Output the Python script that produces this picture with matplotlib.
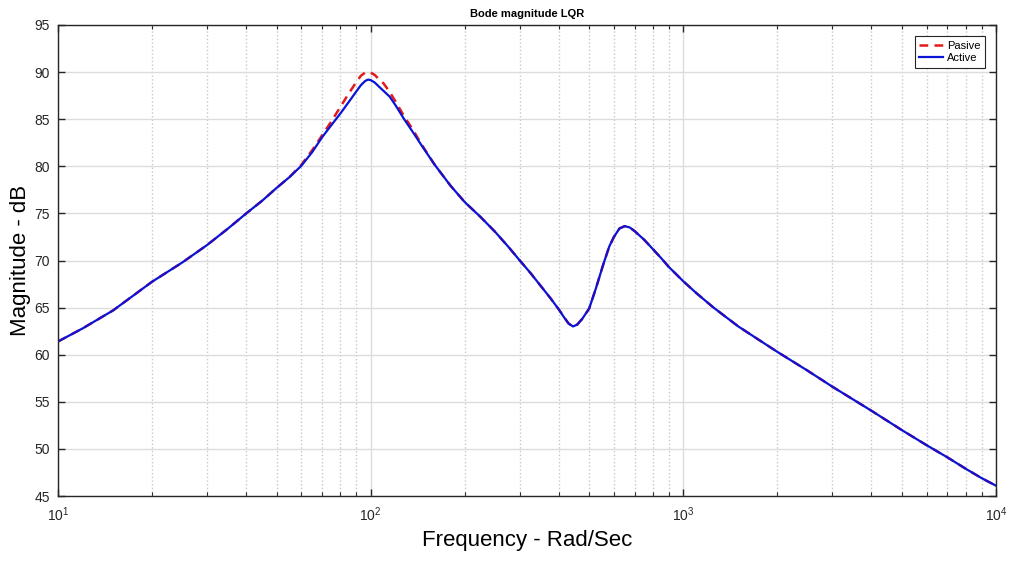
import numpy as np
import matplotlib
matplotlib.use("Agg")
import matplotlib.pyplot as plt
from matplotlib.ticker import LogLocator, NullFormatter

plt.rcParams['font.family'] = ['Liberation Sans', 'DejaVu Sans']

# valeurs
freq = [10, 12, 15, 20, 25, 30, 35, 40, 45, 50, 55, 60, 65, 70, 75, 80, 85, 90,
        93, 96, 98, 100, 103, 106, 110, 115, 120, 128, 137, 145, 160, 180, 200,
        225, 250, 275, 300, 325, 350, 375, 400, 415, 430, 444, 458, 475, 500,
        525, 555, 580, 600, 625, 650, 675, 700, 750, 800, 850, 900, 1000, 1100,
        1250, 1500, 1750, 2000, 2500, 3000, 4000, 5000, 6000, 7000, 8000, 9000,
        10000]

active_db = [61.4, 62.8, 64.7, 67.75, 69.8, 71.65, 73.4, 75.0, 76.35, 77.7, 78.85,
             80.05, 81.5, 83.1, 84.4, 85.6, 86.8, 87.95, 88.6, 89.05, 89.2, 89.15,
             88.9, 88.5, 88.0, 87.4, 86.5, 85.0, 83.55, 82.3, 80.2, 77.95, 76.2,
             74.6, 73.05, 71.5, 70.0, 68.65, 67.3, 66.05, 64.8, 64.0, 63.3, 63.0,
             63.2, 63.8, 64.9, 67.0, 69.6, 71.5, 72.5, 73.4, 73.65, 73.5, 73.1,
             72.2, 71.2, 70.25, 69.3, 67.8, 66.55, 65.0, 63.0, 61.55, 60.3, 58.3,
             56.6, 54.05, 52.0, 50.4, 49.1, 47.9, 46.9, 46.1]

pasive_db = [61.4, 62.8, 64.7, 67.75, 69.8, 71.65, 73.4, 75.0, 76.35, 77.7, 78.85,
             80.15, 81.7, 83.3, 84.8, 86.3, 87.7, 88.95, 89.6, 89.95, 90.0, 89.95,
             89.7, 89.3, 88.8, 87.9, 86.9, 85.3, 83.8, 82.4, 80.2, 77.95, 76.2,
             74.6, 73.05, 71.5, 70.0, 68.65, 67.3, 66.05, 64.8, 64.0, 63.3, 63.0,
             63.2, 63.8, 64.9, 67.0, 69.6, 71.5, 72.5, 73.4, 73.65, 73.5, 73.1,
             72.2, 71.2, 70.25, 69.3, 67.8, 66.55, 65.0, 63.0, 61.55, 60.3, 58.3,
             56.6, 54.05, 52.0, 50.4, 49.1, 47.9, 46.9, 46.1]

y_ticks = [45, 50, 55, 60, 65, 70, 75, 80, 85, 90, 95]

fig = plt.figure(figsize=(10.09, 5.63), dpi=100)
ax = fig.add_axes([0.0575, 0.119, 0.9295, 0.8366])

ax.semilogx(freq, pasive_db, color='#e31a1c', linestyle='--', linewidth=1.8,
            dashes=(3.5, 2.5), label='Pasive')
ax.semilogx(freq, active_db, color='#0a14d6', linewidth=1.6, label='Active')

ax.set_xlim(10, 1e4)
ax.set_ylim(45, 95)
ax.set_yticks(y_ticks)
ax.xaxis.set_minor_locator(LogLocator(base=10, subs=np.arange(2, 10)))
ax.xaxis.set_minor_formatter(NullFormatter())

ax.grid(True, which='major', color='#dcdcdc', linestyle='-', linewidth=1.0)
ax.grid(True, which='minor', axis='x', color='#c8c8c8', linestyle=':', linewidth=1.0)
ax.set_axisbelow(True)

ax.tick_params(which='both', direction='in', top=True, right=True,
               colors='#262626', labelsize=10)
ax.tick_params(which='major', length=5, width=1)
ax.tick_params(which='minor', length=3, width=0.8)
ax.tick_params(axis='x', which='major', pad=7)
ax.tick_params(axis='y', which='major', pad=6)
for sp in ax.spines.values():
    sp.set_color('#262626')
    sp.set_linewidth(1.0)

ax.set_title('Bode magnitude LQR', fontsize=8, fontweight='bold', pad=6)
ax.set_xlabel('Frequency - Rad/Sec', fontsize=16)
ax.set_ylabel('Magnitude - dB', fontsize=16)
ax.xaxis.set_label_coords(0.5, -0.072)
ax.yaxis.set_label_coords(-0.029, 0.5)

leg = ax.legend(loc='upper right', fontsize=8, fancybox=False, framealpha=1,
                edgecolor='#262626', borderpad=0.4, handlelength=2.2,
                handletextpad=0.3, labelspacing=0.25, borderaxespad=1.0)
leg.get_frame().set_linewidth(0.8)

fig.savefig('out.png', dpi=100)
